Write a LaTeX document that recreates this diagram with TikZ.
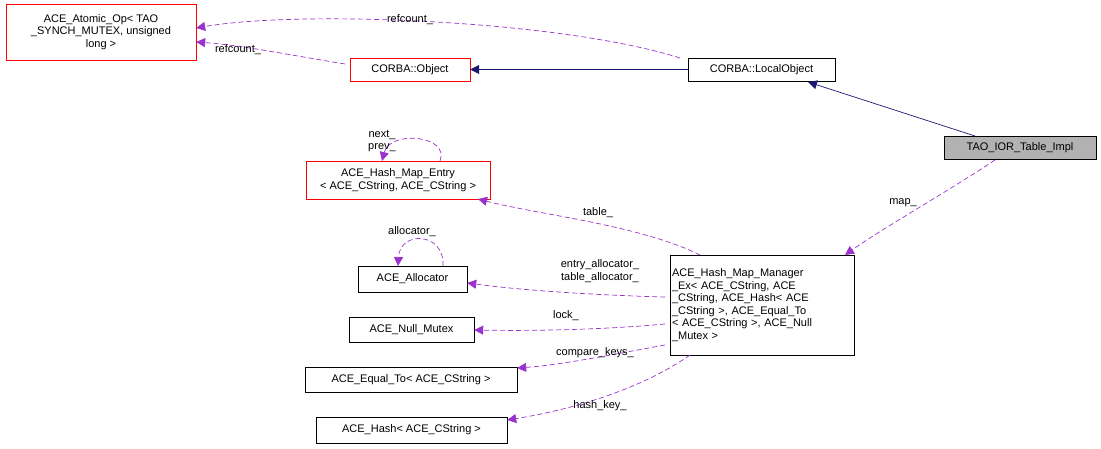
\documentclass[tikz,border=0pt]{standalone}
\usepackage{fontspec}
\setmainfont{Liberation Sans}
\usetikzlibrary{arrows.meta}
\definecolor{edgeblue}{HTML}{191970}
\definecolor{edgepurple}{HTML}{9A32CD}
\tikzset{cls/.style={draw,fill=white,inner sep=2pt,font=\fontsize{11}{12.5}\selectfont,align=center}}
\tikzset{redcls/.style={cls,draw=red}}
\tikzset{inherit/.style={draw=edgeblue,line width=0.7pt,-{Triangle[length=9pt,width=9pt]}}}
\tikzset{use/.style={draw=edgepurple,line width=0.7pt,dash pattern=on 5pt off 3pt,-{Triangle[length=9pt,width=9pt,fill=edgepurple]}}}
\tikzset{lbl/.style={font=\fontsize{11}{12.5}\selectfont,align=center,inner sep=1pt}}
\begin{document}
\begin{tikzpicture}[x=1pt,y=-1pt]
    \useasboundingbox (0,0) rectangle (1101,449);
    % classes
    \node[redcls,minimum width=190pt,minimum height=56pt](atomic) at (101,32)
      {ACE\_Atomic\_Op< TAO\\\_SYNCH\_MUTEX, unsigned\\long >};
    \node[redcls,minimum width=120pt,minimum height=23pt](obj) at (410,69.5) {CORBA::Object};
    \node[cls,minimum width=147pt,minimum height=23pt](local) at (761.5,69.5) {CORBA::LocalObject};
    \node[cls,fill=gray!60,minimum width=152pt,minimum height=23pt](tao) at (1020,147.5) {TAO\_IOR\_Table\_Impl};
    \node[redcls,minimum width=184pt,minimum height=38pt](entry) at (398,180)
      {ACE\_Hash\_Map\_Entry\\< ACE\_CString, ACE\_CString >};
    \node[cls,minimum width=109pt,minimum height=26pt](alloc) at (412.5,279) {ACE\_Allocator};
    \node[cls,minimum width=125pt,minimum height=25pt](mutex) at (411.5,329.5) {ACE\_Null\_Mutex};
    \node[cls,minimum width=212pt,minimum height=25pt](equal) at (411,379.5) {ACE\_Equal\_To< ACE\_CString >};
    \node[cls,minimum width=191pt,minimum height=26pt](hash) at (411.5,430) {ACE\_Hash< ACE\_CString >};
    \node[cls,align=left,text width=180pt,minimum height=100pt](mgr) at (762,305)
      {ACE\_Hash\_Map\_Manager\\\_Ex< ACE\_CString, ACE\\\_CString, ACE\_Hash< ACE\\\_CString >, ACE\_Equal\_To\\< ACE\_CString >, ACE\_Null\\\_Mutex >};
    % inheritance
    \draw[inherit] (local) -- (obj);
    \draw[inherit] (975,136) -- (808,82);
    % usage
    \draw[use] (680,58) .. controls (560,20) and (300,10) .. (atomic.east |- 0,28);
    \node[lbl] (rc1) at (410,20) {refcount\_};
    \draw[use] (345,64) .. controls (290,55) and (240,45) .. (atomic.east |- 0,42);
    \node[lbl] (rc2) at (238,50) {refcount\_};
    \draw[use] (995,160) .. controls (950,190) and (880,230) .. (845,255);
    \node[lbl] (mp) at (903,203) {map\_};
    \draw[use] (700,255) .. controls (640,225) and (540,215) .. (478,199);
    \node[lbl] (tb) at (598,213) {table\_};
    \draw[use] (440,161) .. controls (450,135) and (390,130) .. (382,161);
    \node[lbl] (np) at (382,141) {next\_\\prev\_};
    \draw[use] (443,266) .. controls (445,232) and (400,230) .. (398,266);
    \node[lbl] (al) at (412,232) {allocator\_};
    \draw[use] (665,297) .. controls (590,295) and (520,290) .. (alloc.east |- 0,283);
    \node[lbl] (ea) at (600,271) {entry\_allocator\_\\table\_allocator\_};
    \draw[use] (665,324) .. controls (600,330) and (530,331) .. (mutex.east |- 0,330);
    \node[lbl] (lk) at (566,316) {lock\_};
    \draw[use] (665,345) .. controls (610,355) and (560,365) .. (equal.east |- 0,368);
    \node[lbl] (ck) at (595,353) {compare\_keys\_};
    \draw[use] (690,355) .. controls (640,390) and (570,410) .. (hash.east |- 0,420);
    \node[lbl] (hk) at (600,406) {hash\_key\_};
\end{tikzpicture}
\end{document}
